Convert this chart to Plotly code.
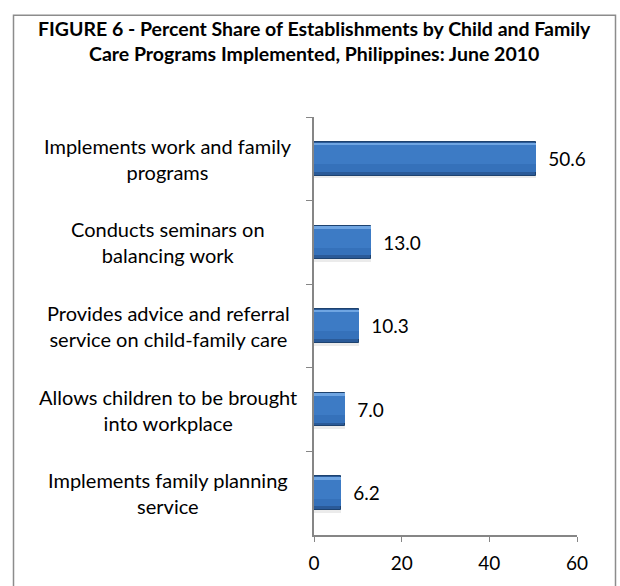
import plotly.graph_objects as go

categories = [
    "Implements work and family<br>programs",
    "Conducts seminars on<br>balancing work",
    "Provides advice and referral<br>service on child-family care",
    "Allows children to be brought<br>into workplace",
    "Implements family planning<br>service",
]
values = [50.6, 13.0, 10.3, 7.0, 6.2]
x_ticks = [0, 20, 40, 60]
title_text = ("<b>FIGURE 6 - Percent Share of Establishments by Child and Family<br>"
              "Care Programs Implemented, Philippines: June 2010</b>")

FONT = "Lato"
W, H = 620, 586
L, R, T, B = 314, 43, 117, 48
pw, ph = W - L - R, H - T - B

def px_x(px):
    return (px - L) / pw

def px_y(py):
    return (H - B - py) / ph

fig = go.Figure()

# soft shadow
fig.add_trace(go.Bar(y=categories, x=values, orientation="h", width=0.42, offset=-0.185,
                     marker=dict(color="rgba(0,0,0,0.08)", line=dict(width=0)),
                     hoverinfo="skip", showlegend=False))
# base (dark edge)
fig.add_trace(go.Bar(y=categories, x=values, orientation="h", width=0.40, offset=-0.20,
                     marker=dict(color="#2A5A98", line=dict(color="#1D426F", width=1)),
                     texttemplate="  %{x:.1f}", textposition="outside",
                     textfont=dict(family=FONT, size=19, color="#000000"),
                     cliponaxis=False, showlegend=False))
# gradient layers
fig.add_trace(go.Bar(y=categories, x=values, orientation="h", width=0.34, offset=-0.185,
                     marker=dict(color="#3571BA", line=dict(width=0)),
                     hoverinfo="skip", showlegend=False))
fig.add_trace(go.Bar(y=categories, x=values, orientation="h", width=0.24, offset=-0.175,
                     marker=dict(color="#3D7BC5", line=dict(width=0)),
                     hoverinfo="skip", showlegend=False))
fig.add_trace(go.Bar(y=categories, x=values, orientation="h", width=0.03, offset=-0.193,
                     marker=dict(color="#6FA5E2", line=dict(width=0)),
                     hoverinfo="skip", showlegend=False))

annotations = []
for c in categories:
    annotations.append(dict(x=px_x(168), xref="paper", y=c, yref="y", text=c,
                            showarrow=False, xanchor="center", yanchor="middle", align="center",
                            font=dict(family=FONT, size=20, color="#000000")))
annotations.append(dict(x=px_x(314), xref="paper", y=px_y(40), yref="paper", text=title_text,
                        showarrow=False, xanchor="center", yanchor="middle", align="center",
                        font=dict(family=FONT, size=19.5, color="#000000")))

fig.update_layout(
    width=W, height=H,
    margin=dict(l=L, r=R, t=T, b=B, pad=0),
    paper_bgcolor="white", plot_bgcolor="white",
    barmode="overlay", bargap=0.0,
    showlegend=False,
    annotations=annotations,
    shapes=[dict(type="rect", xref="paper", yref="paper",
                 x0=px_x(13.5), x1=px_x(615.5), y0=px_y(600), y1=px_y(14.5),
                 line=dict(color="#8C8C8C", width=1.5), fillcolor="rgba(0,0,0,0)", layer="below")],
    xaxis=dict(range=[0, 60], tickvals=x_ticks, ticks="outside", ticklen=5, tickcolor="#868686",
               showline=True, linecolor="#868686", linewidth=1.5, showgrid=False, zeroline=False,
               ticklabelstandoff=5,
               tickfont=dict(family=FONT, size=19, color="#000000"), fixedrange=True),
    yaxis=dict(categoryorder="array", categoryarray=categories, autorange="reversed",
               showticklabels=False, ticks="outside", ticklen=6, tickcolor="#868686",
               tickson="boundaries", showline=True, linecolor="#868686", linewidth=1.5,
               showgrid=False, zeroline=False, fixedrange=True),
)

fig.write_html("out.html", config={"displayModeBar": False})
